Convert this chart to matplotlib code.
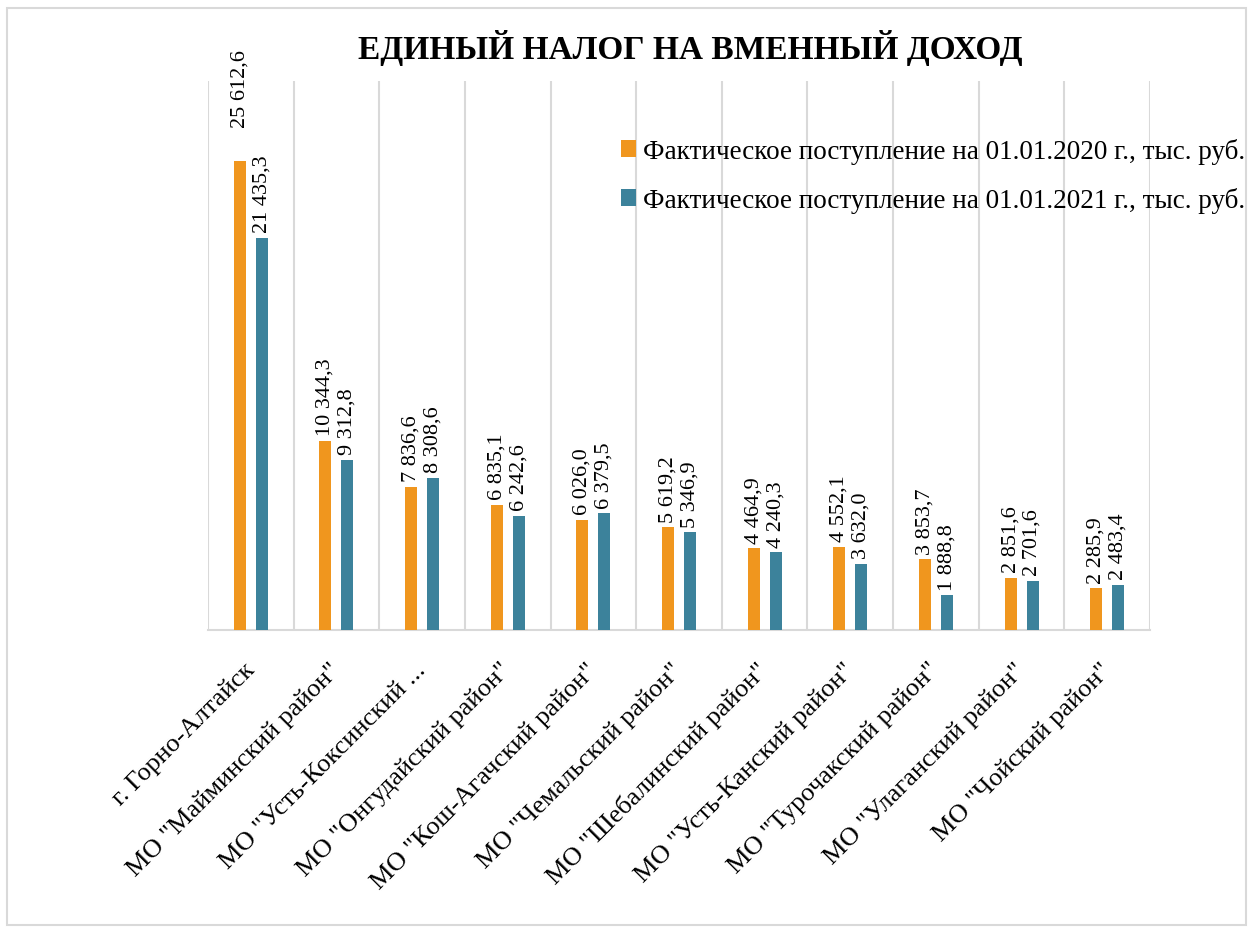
import numpy as np
import matplotlib
matplotlib.use("Agg")
import matplotlib.pyplot as plt
from matplotlib.patches import Rectangle

# --- data ---
districts = [
    'г. Горно-Алтайск',
    'МО "Майминский район"',
    'МО "Усть-Коксинский ...',
    'МО "Онгудайский район"',
    'МО "Кош-Агачский район"',
    'МО "Чемальский район"',
    'МО "Шебалинский район"',
    'МО "Усть-Канский район"',
    'МО "Турочакский район"',
    'МО "Улаганский район"',
    'МО "Чойский район"',
]
fact_2020 = [25612.6, 10344.3, 7836.6, 6835.1, 6026.0, 5619.2, 4464.9, 4552.1, 3853.7, 2851.6, 2285.9]
fact_2021 = [21435.3, 9312.8, 8308.6, 6242.6, 6379.5, 5346.9, 4240.3, 3632.0, 1888.8, 2701.6, 2483.4]
series_names = [
    'Фактическое поступление на 01.01.2020 г., тыс. руб.',
    'Фактическое поступление на 01.01.2021 г., тыс. руб.',
]
title = 'ЕДИНЫЙ НАЛОГ НА ВМЕННЫЙ ДОХОД'

# --- style ---
plt.rcParams['font.family'] = ['Liberation Serif', 'DejaVu Serif']
orange = '#F0961E'
teal = '#3C829B'
grid_col = '#D9D9D9'

def fmt(v):
    # "25 612,6" style
    return f'{v:,.1f}'.replace(',', ' ').replace('.', ',')

fig = plt.figure(figsize=(12.51, 9.29), dpi=100)
ax = fig.add_axes([208 / 1251, 1 - 631 / 929, (1150 - 208) / 1251, (631 - 82) / 929])

x = np.arange(len(districts))
w = 0.14
off = 0.128
b1 = ax.bar(x - off, fact_2020, w, color=orange, label=series_names[0], zorder=3)
b2 = ax.bar(x + off, fact_2021, w, color=teal, label=series_names[1], zorder=3)

# value labels, rotated like in the original
for bars, vals in ((b1, fact_2020), (b2, fact_2021)):
    for i, (r, v) in enumerate(zip(bars, vals)):
        pad = 4
        if bars is b1 and i == 0:
            pad = 25  # this one sits higher in the original
        ax.annotate(fmt(v), (r.get_x() + r.get_width() / 2, r.get_height()),
                    xytext=(0, pad), textcoords='offset points',
                    rotation=90, ha='center', va='bottom', fontsize=16)

ax.set_xlim(-0.5, len(districts) - 0.5)
ax.set_ylim(0, 30000)
ax.set_yticks([])
ax.set_xticks(x)
ax.set_xticklabels(districts, rotation=45, ha='right', va='center',
                   rotation_mode='anchor', fontsize=19)
ax.tick_params(axis='x', length=0, pad=26)
ax.set_xticks(np.arange(len(districts) + 1) - 0.5, minor=True)
ax.tick_params(axis='x', which='minor', length=0)
ax.grid(which='minor', axis='x', color=grid_col, linewidth=1.5, zorder=0)
ax.grid(which='major', axis='x', visible=False)

for side in ('top', 'left', 'right'):
    ax.spines[side].set_visible(False)
ax.spines['bottom'].set_color(grid_col)
ax.spines['bottom'].set_linewidth(1.5)

fig.text(0.552, 0.948, title, ha='center', va='center',
         fontsize=24, fontweight='bold')

fig.legend(loc='upper left', bbox_to_anchor=(621 / 1251, 1 - 139 / 929),
           frameon=False, fontsize=19.5, handlelength=0.55, handleheight=0.55,
           handletextpad=0.25, labelspacing=0.85, borderpad=0, borderaxespad=0)

# light frame round the whole chart
fig.patches.append(Rectangle((7 / 1251, 3 / 929), 1239 / 1251, (920 - 3) / 929,
                             transform=fig.transFigure, fill=False,
                             edgecolor=grid_col, linewidth=1.5))

fig.savefig('out.png', dpi=100)
